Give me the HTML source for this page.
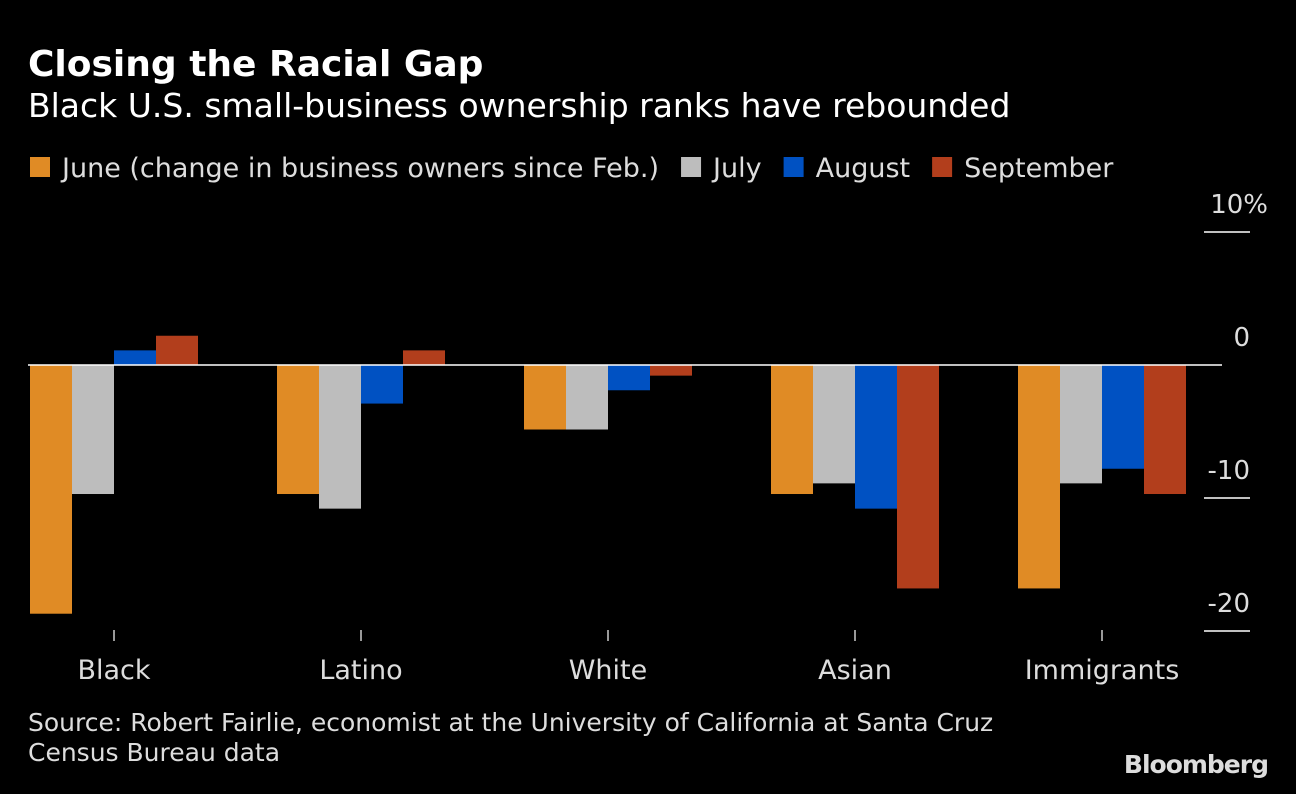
<!DOCTYPE html>
<html><head><meta charset="utf-8"><style>
body{margin:0;background:#000;width:1296px;height:790px;overflow:hidden;font-family:"DejaVu Sans",sans-serif;color:#fff}
svg text{font-family:"DejaVu Sans",sans-serif}
</style></head><body>
<svg id="c" width="1296" height="790" xmlns="http://www.w3.org/2000/svg">
<text x="28" y="76" font-size="36" font-weight="bold" fill="#fff">Closing the Racial Gap</text>
<text x="28" y="117" font-size="33" fill="#fff">Black U.S. small-business ownership ranks have rebounded</text>
<g id="legend"></g>
<g id="axis"></g>
<g id="bars"></g>
<g id="xaxis"></g>
<text x="28" y="731" font-size="25" fill="#ddd">Source: Robert Fairlie, economist at the University of California at Santa Cruz</text>
<text x="28" y="761" font-size="25" fill="#ddd">Census Bureau data</text>
<text x="1268" y="773" font-size="25" font-weight="bold" fill="#ddd" text-anchor="end" letter-spacing="-1">Bloomberg</text>
</svg>
<script>
const categories=["Black","Latino","White","Asian","Immigrants"];
const seriesNames=["June (change in business owners since Feb.)","July","August","September"];
const june=[-18.7,-9.7,-4.85,-9.7,-16.8];
const july=[-9.7,-10.8,-4.85,-8.9,-8.9];
const august=[1.1,-2.9,-1.9,-10.8,-7.8];
const september=[2.2,1.1,-0.8,-16.8,-9.7];
const tickValues=[10,0,-10,-20];
const tickLabels=["10%","0","-10","-20"];
const colors=["#e08b25","#bdbdbd","#0051c2","#b23e1c"];
const series=[june,july,august,september];
const NS="http://www.w3.org/2000/svg";
function y(v){return 365-v*13.3;}
function gx(i){return 114+i*247;}
function mk(t,a,p){const e=document.createElementNS(NS,t);for(const k in a)e.setAttribute(k,a[k]);p.appendChild(e);return e;}
const ax=document.getElementById('axis');
tickValues.forEach((v,i)=>{
 if(v!==0){const l=mk('line',{x1:1204,x2:1250,y1:y(v),y2:y(v),stroke:'#fff','stroke-width':1.5},ax);
 
 }
 const t=mk('text',{x:1250,y:y(v)-19,'font-size':26,fill:'#ddd','text-anchor':'end'},ax);
 if(v===10)t.setAttribute('x',1268);
 t.textContent=tickLabels[i];
 
 
});
const bg=document.getElementById('bars');
series.forEach((s,si)=>{s.forEach((v,ci)=>{
 const x=gx(ci)-84+si*42;
 const r=mk('rect',{x:x,width:42,y:Math.min(y(v),y(0)),height:Math.abs(y(v)-y(0)),fill:colors[si]},bg);
 
 
});});
const z=mk('line',{x1:28,x2:1222,y1:y(0),y2:y(0),stroke:'#fff','stroke-width':1.5},bg);


const xa=document.getElementById('xaxis');
categories.forEach((c,i)=>{
 const l=mk('line',{x1:gx(i),x2:gx(i),y1:630,y2:641,stroke:'#ccc','stroke-width':1.5},xa);
 
 
 const t=mk('text',{x:gx(i),y:679,'font-size':27,fill:'#ddd','text-anchor':'middle'},xa);
 t.textContent=c;
 
 
});
const lg=document.getElementById('legend');
let lx=30;
seriesNames.forEach((n,i)=>{
 const r=mk('rect',{x:lx,y:157,width:20,height:20,fill:colors[i]},lg);
 
 
 const t=mk('text',{x:lx+32,y:177,'font-size':27,fill:'#ddd'},lg);
 t.textContent=n;
 
 
 lx+=32+t.getComputedTextLength()+22;
});
</script>
</body></html>
